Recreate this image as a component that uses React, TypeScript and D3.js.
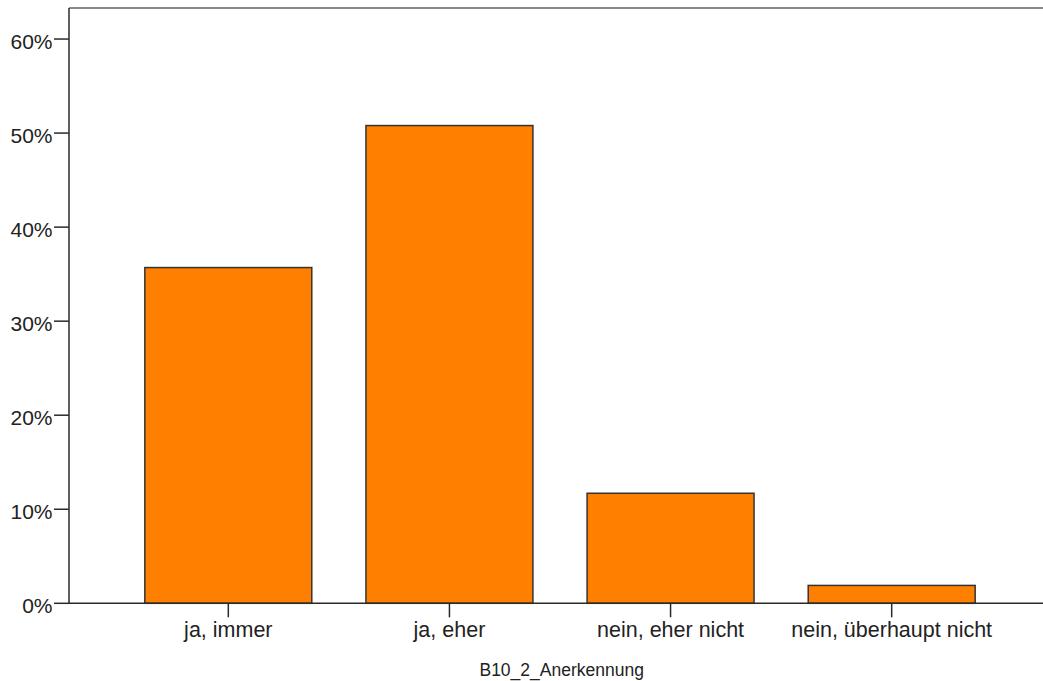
import React from "react";
import * as d3 from "d3";

const categories = ["ja, immer", "ja, eher", "nein, eher nicht", "nein, überhaupt nicht"];
const percents = [35.7, 50.8, 11.7, 1.9];
const yTicks = [0, 10, 20, 30, 40, 50, 60];
const axisTitle = "B10_2_Anerkennung";

const W = 1043;
const H = 681;
const left = 69;
const bottom = 603.3;
const top = 8;

export default function App() {
  const y = d3.scaleLinear().domain([0, 63.3]).range([bottom, top]);
  const x = d3
    .scaleBand<string>()
    .domain(categories)
    .range([117.75, 1002.25])
    .paddingInner(0.245)
    .paddingOuter(0.1225);
  const font = "'Liberation Sans', Arial, sans-serif";
  const axisColor = "#2a2a2a";
  return (
    <div style={{ position: "absolute", left: 0, top: 0 }}>
      <svg width={W} height={H} style={{ display: "block", background: "#fff" }}>
        {/* top frame */}
        <line x1={left} x2={W} y1={top} y2={top} stroke="#8a8a8a" strokeWidth={2} />
        {/* bars */}
        {categories.map((c, i) => (
          <rect
            key={c}
            x={x(c)}
            y={y(percents[i])}
            width={x.bandwidth()}
            height={bottom - y(percents[i])}
            fill="#FF8000"
            stroke="#333"
            strokeWidth={1.5}
          />
        ))}
        {/* y axis */}
        <line x1={left} x2={left} y1={top} y2={bottom} stroke={axisColor} strokeWidth={1.5} />
        {yTicks.map((t) => (
          <g key={t}>
            <line x1={left - 15} x2={left} y1={y(t)} y2={y(t)} stroke={axisColor} strokeWidth={1.5} />
            <text
              x={52.5}
              y={y(t)}
              dy={10}
              textAnchor="end"
              fontFamily={font}
              fontSize={21}
              fill="#222"
            >
              {t}%
            </text>
          </g>
        ))}
        {/* x axis */}
        <line x1={left} x2={W} y1={bottom} y2={bottom} stroke={axisColor} strokeWidth={1.5} />
        {categories.map((c) => {
          const cx = (x(c) as number) + x.bandwidth() / 2;
          return (
            <g key={c}>
              <line x1={cx} x2={cx} y1={bottom} y2={bottom + 14} stroke={axisColor} strokeWidth={1.5} />
              <text
                x={cx}
                y={636.7}
                textAnchor="middle"
                fontFamily={font}
                fontSize={21.5}
                fill="#222"
              >
                {c}
              </text>
            </g>
          );
        })}
        <text
          x={561.7}
          y={676}
          textAnchor="middle"
          fontFamily={font}
          fontSize={17.5}
          fill="#222"
        >
          {axisTitle}
        </text>
      </svg>
    </div>
  );
}
